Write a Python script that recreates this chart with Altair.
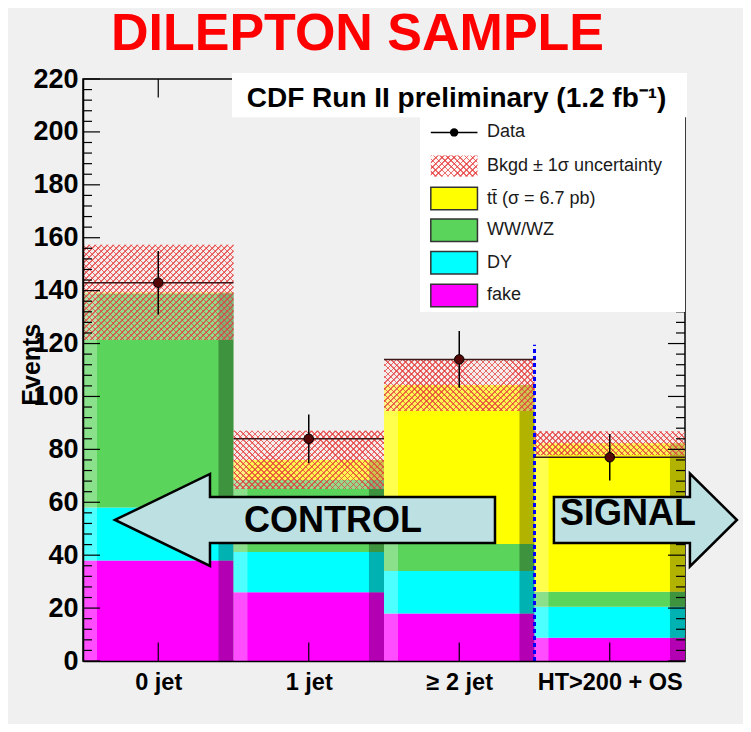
import altair as alt
import pandas as pd

# ---------------- data ----------------
categories = ["0 jet", "1 jet", "\u2265 2 jet", "HT>200 + OS"]
processes = ["fake", "DY", "WW/WZ", "ttbar"]
fake = [38.0, 26.0, 18.0, 8.8]
dy = [20.0, 15.2, 16.0, 11.7]
wwwz = [81.0, 27.2, 10.2, 5.7]
ttbar = [0.3, 7.6, 60.1, 56.1]
bkgd_unc = [18.0, 11.0, 9.8, 4.5]
data_val = [143.0, 84.0, 114.0, 77.0]
data_err = [12.0, 9.2, 10.7, 8.8]
signal_line_top = 119.5

legend_labels = ["Data", "Bkgd \u00b1 1\u03c3 uncertainty", "tt\u0304 (\u03c3 = 6.7 pb)", "WW/WZ", "DY", "fake"]
header_text = "CDF Run II preliminary (1.2 fb\u207b\u00b9)"
title_text = "DILEPTON SAMPLE"

# ---------------- styles / layout ----------------
FONT = "Liberation Sans"
proc_colors = {"fake": "#ff00ff", "DY": "#00ffff", "WW/WZ": "#5ad45a", "ttbar": "#ffff00"}
BG = "#f0f0f0"
ARROW_FILL = "#bde0e3"
W_PX, H_PX = 602, 582
X_MAX, Y_MAX = 4, 220
PX_X = W_PX / X_MAX
PX_Y = H_PX / Y_MAX
HATCH_PITCH = 6.0      # px, horizontal spacing of hatch lines
HATCH_FRAC = 0.27      # line fraction of a period
HATCH_RED = "rgba(228,55,55,0.72)"
HATCH_CLEAR = "rgba(228,55,55,0)"

X = alt.Scale(domain=[0, X_MAX], nice=False, zero=False)
Y = alt.Scale(domain=[0, Y_MAX], nice=False, zero=True)


def hatch_gradient(w_px, h_px, flip):
    k = h_px / w_px
    a = (1 + k) / (1 + k * k)
    n = max(2, int(round(w_px * (1 + k) / HATCH_PITCH)))
    stops = []
    for j in range(n):
        s0 = j / n
        s1 = (j + HATCH_FRAC) / n
        s2 = (j + 1) / n
        stops += [alt.GradientStop(offset=s0, color=HATCH_RED),
                  alt.GradientStop(offset=s1, color=HATCH_RED),
                  alt.GradientStop(offset=s1, color=HATCH_CLEAR),
                  alt.GradientStop(offset=s2, color=HATCH_CLEAR)]
    if flip:
        return alt.LinearGradient(gradient="linear", stops=stops, x1=1, y1=0, x2=1 - a, y2=a * k)
    return alt.LinearGradient(gradient="linear", stops=stops, x1=0, y1=0, x2=a, y2=a * k)


def hatch_layers(x0, x1, y0, y1):
    df = pd.DataFrame({"x0": [x0], "x1": [x1], "y0": [y0], "y1": [y1]})
    w_px = (x1 - x0) * PX_X
    h_px = (y1 - y0) * PX_Y
    enc = dict(x=alt.X("x0:Q", scale=X), x2="x1:Q", y=alt.Y("y0:Q", scale=Y), y2="y1:Q")
    under = alt.Chart(df).mark_rect(color="#ffe4e4", opacity=0.35).encode(**enc)
    l1 = alt.Chart(df).mark_rect(fill=hatch_gradient(w_px, h_px, False), strokeWidth=0).encode(**enc)
    l2 = alt.Chart(df).mark_rect(fill=hatch_gradient(w_px, h_px, True), strokeWidth=0).encode(**enc)
    return [under, l1, l2]


# ---------------- tables ----------------
stack_rows = []
for i, cat in enumerate(categories):
    base = 0.0
    for p, vals in zip(processes, [fake, dy, wwwz, ttbar]):
        stack_rows.append({"cat": cat, "proc": p, "x0": i, "x1": i + 1, "y0": base, "y1": base + vals[i]})
        base += vals[i]
stack_df = pd.DataFrame(stack_rows)

totals = [fake[i] + dy[i] + wwwz[i] + ttbar[i] for i in range(len(categories))]
bins_df = pd.DataFrame({
    "cat": categories,
    "x0": list(range(len(categories))),
    "x1": [i + 1 for i in range(len(categories))],
    "xc": [i + 0.5 for i in range(len(categories))],
    "lx1": [i + 0.093 for i in range(len(categories))],
    "rx0": [i + 0.9 for i in range(len(categories))],
    "total": totals,
    "data": data_val,
    "dlo": [d - e for d, e in zip(data_val, data_err)],
    "dhi": [d + e for d, e in zip(data_val, data_err)],
})

label_expr = (
    f"datum.value < 1 ? '{categories[0]}' : datum.value < 2 ? '{categories[1]}' : "
    f"datum.value < 3 ? '{categories[2]}' : '{categories[3]}'"
)

x_axis = alt.Axis(values=[0.5, 1.5, 2.5, 3.5], labelExpr=label_expr, title=None, ticks=False,
                  grid=False, domainColor="black", domainWidth=1.5, labelFont=FONT,
                  labelFontSize=23.5, labelFontWeight="bold", labelColor="black", labelPadding=9,
                  zindex=1)
y_axis = alt.Axis(values=list(range(0, 221, 20)), title=None, ticks=False, grid=False,
                  domainColor="black", domainWidth=1.5, labelFont=FONT, labelFontSize=27,
                  labelFontWeight="bold", labelColor="black", labelPadding=5, zindex=1)

stack = alt.Chart(stack_df).mark_rect().encode(
    x=alt.X("x0:Q", scale=X, axis=x_axis),
    x2="x1:Q",
    y=alt.Y("y0:Q", scale=Y, axis=y_axis),
    y2="y1:Q",
    color=alt.Color("proc:N", scale=alt.Scale(domain=processes, range=[proc_colors[p] for p in processes]), legend=None),
)

base_bins = alt.Chart(bins_df)
left_strip = base_bins.mark_rect(color="white", opacity=0.3).encode(
    x=alt.X("x0:Q", scale=X), x2="lx1:Q", y=alt.Y("total:Q", scale=Y), y2=alt.datum(0))
right_strip = base_bins.mark_rect(color="black", opacity=0.3).encode(
    x=alt.X("rx0:Q", scale=X), x2="x1:Q", y=alt.Y("total:Q", scale=Y), y2=alt.datum(0))

band_layers = []
for i in range(len(categories)):
    band_layers += hatch_layers(i, i + 1, totals[i] - bkgd_unc[i], totals[i] + bkgd_unc[i])

signal_line = alt.Chart(pd.DataFrame({"x": [3], "y0": [0], "y1": [signal_line_top]})).mark_rule(
    color="#0000ff", strokeWidth=3, strokeDash=[4, 3]).encode(
    x=alt.X("x:Q", scale=X), y=alt.Y("y0:Q", scale=Y), y2="y1:Q")

data_h = base_bins.mark_rule(color="#3c1818", strokeWidth=1.5).encode(
    x=alt.X("x0:Q", scale=X), x2="x1:Q", y=alt.Y("data:Q", scale=Y))
data_v = base_bins.mark_rule(color="black", strokeWidth=1.5).encode(
    x=alt.X("xc:Q", scale=X), y=alt.Y("dlo:Q", scale=Y), y2="dhi:Q")
data_pt = base_bins.mark_point(filled=True, size=90, fill="#550808", stroke="black", strokeWidth=1,
                               opacity=1).encode(
    x=alt.X("xc:Q", scale=X), y=alt.Y("data:Q", scale=Y))

# ---------------- inward axis ticks ----------------
major = list(range(0, 221, 20))
minor = [v for v in range(0, 221, 4) if v % 20 != 0]
tick_rows = []
for v in major:
    tick_rows.append({"x0": 0, "x1": 0.113, "y": v})
    tick_rows.append({"x0": 4, "x1": 3.887, "y": v})
for v in minor:
    tick_rows.append({"x0": 0, "x1": 0.06, "y": v})
    tick_rows.append({"x0": 4, "x1": 3.94, "y": v})
yticks = alt.Chart(pd.DataFrame(tick_rows)).mark_rule(color="black", strokeWidth=1.2).encode(
    x=alt.X("x0:Q", scale=X), x2="x1:Q", y=alt.Y("y:Q", scale=Y))
xt_rows = []
for i in range(len(categories)):
    xt_rows.append({"x": i + 0.5, "y0": 0, "y1": 7})
    xt_rows.append({"x": i + 0.5, "y0": 220, "y1": 213})
xticks = alt.Chart(pd.DataFrame(xt_rows)).mark_rule(color="black", strokeWidth=1.2).encode(
    x=alt.X("x:Q", scale=X), y=alt.Y("y0:Q", scale=Y), y2="y1:Q")

# ---------------- header + legend boxes ----------------
boxes = alt.Chart(pd.DataFrame({
    "x0": [0.99, 2.239], "x1": [4.013, 4.0], "y0": [205.5, 131.9], "y1": [222.3, 205.8]
})).mark_rect(color="white", clip=False).encode(
    x=alt.X("x0:Q", scale=X), x2="x1:Q", y=alt.Y("y0:Q", scale=Y), y2="y1:Q")

header = alt.Chart(pd.DataFrame({"x": [1.088], "y": [209.4], "t": [header_text]})).mark_text(
    align="left", baseline="alphabetic", font=FONT, fontSize=28, fontWeight="bold", color="black").encode(
    x=alt.X("x:Q", scale=X), y=alt.Y("y:Q", scale=Y), text="t:N")

leg_y = [199.8, 187.1, 174.8, 162.8, 150.5, 138.2]
leg_x0, leg_x1, leg_tx = 2.311, 2.621, 2.684
leg_half = 4.25

leg_text = alt.Chart(pd.DataFrame({"x": [leg_tx] * 6, "y": leg_y, "t": legend_labels})).mark_text(
    align="left", baseline="middle", font=FONT, fontSize=18, color="#1a1a1a").encode(
    x=alt.X("x:Q", scale=X), y=alt.Y("y:Q", scale=Y), text="t:N")

sw_df = pd.DataFrame({
    "proc": ["ttbar", "WW/WZ", "DY", "fake"],
    "x0": [leg_x0] * 4, "x1": [leg_x1] * 4,
    "y0": [v - leg_half for v in leg_y[2:]], "y1": [v + leg_half for v in leg_y[2:]],
})
leg_sw = alt.Chart(sw_df).mark_rect(stroke="#333333", strokeWidth=1.5).encode(
    x=alt.X("x0:Q", scale=X), x2="x1:Q", y=alt.Y("y0:Q", scale=Y), y2="y1:Q",
    color=alt.Color("proc:N", scale=alt.Scale(domain=processes, range=[proc_colors[p] for p in processes]), legend=None))
leg_band = hatch_layers(leg_x0, leg_x1, leg_y[1] - 4.0, leg_y[1] + 4.0)
leg_line = alt.Chart(pd.DataFrame({"x0": [leg_x0], "x1": [leg_x1], "y": [leg_y[0]]})).mark_rule(
    color="black", strokeWidth=1.5).encode(x=alt.X("x0:Q", scale=X), x2="x1:Q", y=alt.Y("y:Q", scale=Y))
leg_pt = alt.Chart(pd.DataFrame({"x": [(leg_x0 + leg_x1) / 2], "y": [leg_y[0]]})).mark_point(
    filled=True, size=70, fill="black", opacity=1).encode(x=alt.X("x:Q", scale=X), y=alt.Y("y:Q", scale=Y))

# ---------------- titles ----------------
big_title = alt.Chart(pd.DataFrame({"x": [1.824], "y": [231.0], "t": [title_text]})).mark_text(
    align="center", baseline="alphabetic", font=FONT, fontSize=52, fontWeight="bold", color="#ff0000").encode(
    x=alt.X("x:Q", scale=X), y=alt.Y("y:Q", scale=Y), text="t:N")
y_title = alt.Chart(pd.DataFrame({"x": [-0.339], "y": [112.0], "t": ["Events"]})).mark_text(
    align="center", baseline="middle", angle=270, font=FONT, fontSize=25, fontWeight="bold", color="black").encode(
    x=alt.X("x:Q", scale=X), y=alt.Y("y:Q", scale=Y), text="t:N")

# ---------------- CONTROL / SIGNAL arrows ----------------
control_path = "M-190,0L-95,-46L-95,-23L190,-23L190,23L-95,23L-95,46Z"
signal_path = "M91.5,0L44.5,-46.5L44.5,-23L-91.5,-23L-91.5,23L44.5,23L44.5,46.5Z"
arr_ctrl = alt.Chart(pd.DataFrame({"x": [1.475], "y": [53.3]})).mark_point(
    shape=control_path, size=4, filled=True, fill=ARROW_FILL, stroke="black", strokeWidth=2.5,
    opacity=1, fillOpacity=1, strokeJoin="miter").encode(x=alt.X("x:Q", scale=X), y=alt.Y("y:Q", scale=Y))
arr_sig = alt.Chart(pd.DataFrame({"x": [3.737], "y": [53.3]})).mark_point(
    shape=signal_path, size=4, filled=True, fill=ARROW_FILL, stroke="black", strokeWidth=2.5,
    opacity=1, fillOpacity=1, strokeJoin="miter").encode(x=alt.X("x:Q", scale=X), y=alt.Y("y:Q", scale=Y))
arr_text = alt.Chart(pd.DataFrame({"x": [1.661, 3.621], "y": [48.8, 51.4], "t": ["CONTROL", "SIGNAL"]})).mark_text(
    align="center", baseline="alphabetic", font=FONT, fontSize=36, fontWeight="bold", color="black").encode(
    x=alt.X("x:Q", scale=X), y=alt.Y("y:Q", scale=Y), text="t:N")

chart = alt.layer(
    stack, left_strip, right_strip, *band_layers, signal_line, data_h, data_v, data_pt,
    yticks, xticks, boxes, header, *leg_band, leg_sw, leg_line, leg_pt, leg_text,
    big_title, y_title, arr_ctrl, arr_sig, arr_text,
).properties(
    width=W_PX, height=H_PX,
    padding={"left": 75, "top": 71, "right": 58, "bottom": 63},
    autosize=alt.AutoSizeParams(type="none"),
    background=BG,
).configure_view(stroke="black", strokeWidth=1.5, fill=BG)

chart.save("out.html", embed_options={"renderer": "svg", "actions": False})
